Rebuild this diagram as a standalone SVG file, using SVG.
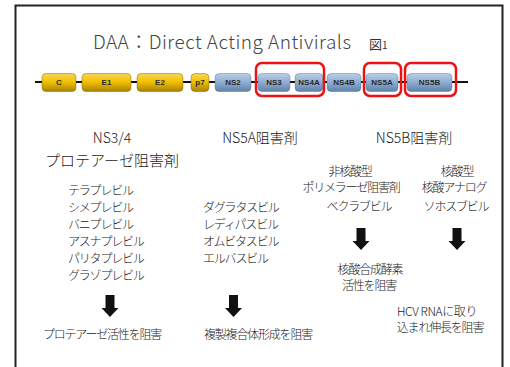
<svg xmlns="http://www.w3.org/2000/svg" width="510" height="367" viewBox="0 0 510 367">
<defs>
<linearGradient id="gold" x1="0" y1="0" x2="0" y2="1">
<stop offset="0" stop-color="#f7d65a"/>
<stop offset="0.45" stop-color="#f2c200"/>
<stop offset="1" stop-color="#a88200"/>
</linearGradient>
<linearGradient id="blue" x1="0" y1="0" x2="0" y2="1">
<stop offset="0" stop-color="#b9cfe6"/>
<stop offset="0.5" stop-color="#8eacd0"/>
<stop offset="1" stop-color="#5f80a8"/>
</linearGradient>
<path id="arr" d="M-4.5,0 H4.5 V13 H8.5 L0,22 L-8.5,13 H-4.5 Z" fill="#111"/>
</defs>
<style>
.jp{font-family:"Noto Sans CJK JP","Liberation Sans",sans-serif;fill:#1a1a1a}
.hd{font-size:14px;text-anchor:middle;font-weight:300}
.sm{font-size:12px;letter-spacing:-1.2px;font-weight:300}
.mid{text-anchor:middle}
.g{stroke:#6a5200;stroke-width:0.4}
.b{stroke:#4d6a8e;stroke-width:0.4}
.lbl{font-family:"Liberation Sans",sans-serif;font-size:8px;font-weight:bold;fill:#2a2a2a;text-anchor:middle}
.red{fill:none;stroke:#ee1111;stroke-width:2.5}
</style>
<rect x="0" y="0" width="510" height="367" fill="#fff"/>
<path d="M15.5,367 V5.5 H502.5 V367" fill="none" stroke="#222" stroke-width="2"/>
<text x="93" y="49" font-family="Noto Sans CJK JP,Liberation Sans,sans-serif" font-size="19" font-weight="300" fill="#444" textLength="258">DAA：Direct Acting Antivirals</text>
<text x="369" y="49" class="jp" font-size="13" style="fill:#333">図<tspan font-size="10">1</tspan></text>
<g id="genome-line"><line x1="35" y1="82" x2="468" y2="82" stroke="#111" stroke-width="2"/></g>
<g id="C"><rect x="42" y="73.5" width="34" height="18" rx="4" fill="url(#gold)" class="g"/><text x="59" y="85" class="lbl">C</text></g>
<g id="E1"><rect x="82" y="73.5" width="49" height="18" rx="4" fill="url(#gold)" class="g"/><text x="106.5" y="85" class="lbl">E1</text></g>
<g id="E2"><rect x="137" y="73.5" width="46" height="18" rx="4" fill="url(#gold)" class="g"/><text x="160" y="85" class="lbl">E2</text></g>
<g id="p7"><rect x="191" y="73.5" width="18" height="18" rx="4" fill="url(#gold)" class="g"/><text x="200" y="85" class="lbl">p7</text></g>
<g id="NS2"><rect x="215" y="73.5" width="36" height="18" rx="4" fill="url(#blue)" class="b"/><text x="233" y="85" class="lbl">NS2</text></g>
<g id="NS3"><rect x="258" y="73.5" width="32" height="18" rx="4" fill="url(#blue)" class="b"/><text x="274" y="85" class="lbl">NS3</text></g>
<g id="NS4A"><rect x="295" y="73.5" width="28" height="18" rx="4" fill="url(#blue)" class="b"/><text x="309" y="85" class="lbl">NS4A</text></g>
<g id="NS4B"><rect x="327" y="73.5" width="34" height="18" rx="4" fill="url(#blue)" class="b"/><text x="344" y="85" class="lbl">NS4B</text></g>
<g id="NS5A"><rect x="366" y="73.5" width="32" height="18" rx="4" fill="url(#blue)" class="b"/><text x="382" y="85" class="lbl">NS5A</text></g>
<g id="NS5B"><rect x="407" y="73.5" width="45" height="18" rx="4" fill="url(#blue)" class="b"/><text x="429.5" y="85" class="lbl">NS5B</text></g>
<g id="highlights">
<rect x="256" y="63" width="68" height="33" rx="6" class="red"/>
<rect x="364" y="63" width="37" height="33" rx="6" class="red"/>
<rect x="405" y="63" width="51" height="33" rx="6" class="red"/>
</g>
<g id="col-ns34" class="jp">
<text x="112" y="143" class="jp hd">NS3/4</text>
<text x="112" y="166" class="jp mid" font-size="15" font-weight="300">プロテアーゼ阻害剤</text>
<text x="68" y="195" class="jp sm">テラプレビル</text>
<text x="68" y="212" class="jp sm">シメプレビル</text>
<text x="68" y="229" class="jp sm">バニプレビル</text>
<text x="68" y="246" class="jp sm">アスナプレビル</text>
<text x="68" y="263" class="jp sm">パリタプレビル</text>
<text x="68" y="280" class="jp sm">グラゾプレビル</text>
<text x="102" y="339" class="jp sm mid">プロテアーゼ活性を阻害</text>
</g>
<g id="col-ns5a" class="jp">
<text x="260" y="143" class="jp hd">NS5A阻害剤</text>
<text x="203" y="212" class="jp sm">ダグラタスビル</text>
<text x="203" y="229" class="jp sm">レディパスビル</text>
<text x="203" y="246" class="jp sm">オムビタスビル</text>
<text x="203" y="263" class="jp sm">エルバスビル</text>
<text x="258" y="339" class="jp sm mid">複製複合体形成を阻害</text>
</g>
<g id="col-ns5b" class="jp">
<text x="414" y="143" class="jp hd">NS5B阻害剤</text>
<text x="350" y="176" class="jp sm mid">非核酸型</text>
<text x="351" y="192" class="jp sm mid">ポリメラーゼ阻害剤</text>
<text x="359" y="211" class="jp sm mid">ベクラブビル</text>
<text x="370" y="274" class="jp sm mid">核酸合成酵素</text>
<text x="369" y="290" class="jp sm mid">活性を阻害</text>
<text x="457" y="176" class="jp sm mid">核酸型</text>
<text x="454" y="192" class="jp sm mid">核酸アナログ</text>
<text x="456" y="211" class="jp sm mid">ソホスブビル</text>
<text x="437" y="316" class="jp mid" font-size="12" font-weight="300" letter-spacing="-0.4">HCV RNAに取り</text>
<text x="440" y="332" class="jp sm mid">込まれ伸長を阻害</text>
</g>
<g id="connectors">
<use href="#arr" x="110" y="295"/>
<use href="#arr" x="233.5" y="295"/>
<use href="#arr" x="361" y="228"/>
<use href="#arr" x="457" y="228"/>
</g>
</svg>
